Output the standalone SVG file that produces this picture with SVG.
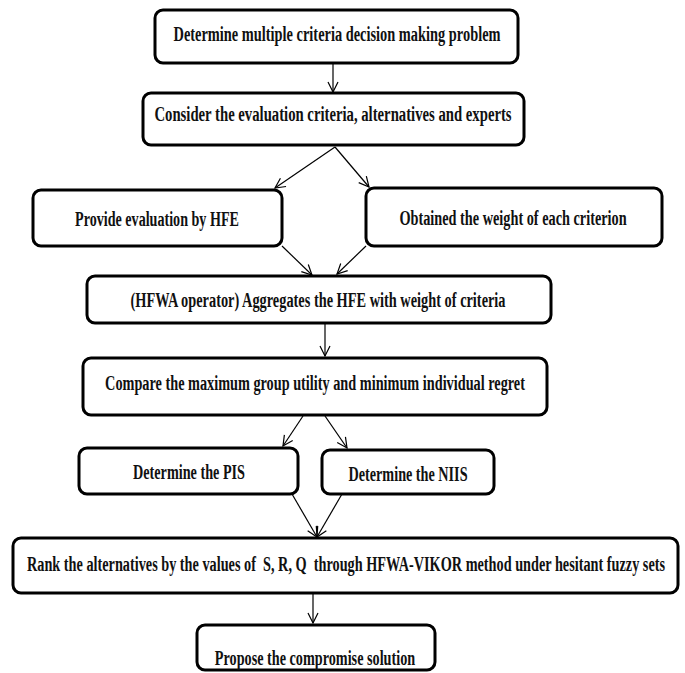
<svg xmlns="http://www.w3.org/2000/svg" width="685" height="673" viewBox="0 0 685 673">
<style>
.box{fill:#fff;stroke:#000;stroke-width:3}
.t{font-family:"Liberation Serif","Times New Roman",serif;font-weight:bold;font-size:22px;fill:#111;text-anchor:middle;white-space:pre}
.c{stroke:#000;stroke-width:1.2;fill:none}
</style>
<defs>
<marker id="ah" viewBox="-1 -6 12 12" refX="10" refY="0" markerWidth="12" markerHeight="12" markerUnits="userSpaceOnUse" orient="auto">
<path d="M0,-5 L10,0 L0,5" fill="none" stroke="#000" stroke-width="1.2"/>
</marker>
</defs>
<rect width="685" height="673" fill="#fff"/>
<g id="connectors">
<line class="c" x1="333" y1="63" x2="333" y2="92" marker-end="url(#ah)"/>
<line class="c" x1="335" y1="147" x2="275" y2="188" marker-end="url(#ah)"/>
<line class="c" x1="335" y1="147" x2="369" y2="187" marker-end="url(#ah)"/>
<line class="c" x1="282" y1="246" x2="312" y2="275" marker-end="url(#ah)"/>
<line class="c" x1="366" y1="246" x2="337" y2="274" marker-end="url(#ah)"/>
<line class="c" x1="325" y1="324" x2="325" y2="356" marker-end="url(#ah)"/>
<line class="c" x1="303" y1="416" x2="283" y2="446" marker-end="url(#ah)"/>
<line class="c" x1="325" y1="416" x2="347" y2="448" marker-end="url(#ah)"/>
<line class="c" x1="292" y1="494" x2="317" y2="537" marker-end="url(#ah)"/>
<line class="c" x1="342" y1="494" x2="317" y2="537" marker-end="url(#ah)"/>
<line class="c" x1="313" y1="593" x2="313" y2="623" marker-end="url(#ah)"/>
</g>
<g id="n1"><rect class="box" x="155" y="10" width="363" height="53" rx="8"/><text class="t" transform="translate(337,40.5) scale(0.64,1)" textLength="511" lengthAdjust="spacingAndGlyphs">Determine multiple criteria decision making problem</text></g>
<g id="n2"><rect class="box" x="143" y="93" width="381" height="52" rx="8"/><text class="t" transform="translate(333,120.5) scale(0.64,1)" textLength="558" lengthAdjust="spacingAndGlyphs">Consider the evaluation criteria, alternatives and experts</text></g>
<g id="n3"><rect class="box" x="33" y="190" width="249" height="56" rx="8"/><text class="t" transform="translate(157,225.5) scale(0.64,1)" textLength="256" lengthAdjust="spacingAndGlyphs">Provide evaluation by HFE</text></g>
<g id="n4"><rect class="box" x="366" y="188" width="296" height="58" rx="8"/><text class="t" transform="translate(513,224.5) scale(0.64,1)" textLength="355" lengthAdjust="spacingAndGlyphs">Obtained the weight of each criterion</text></g>
<g id="n5"><rect class="box" x="87" y="276" width="464" height="47" rx="8"/><text class="t" transform="translate(318,306.5) scale(0.64,1)" textLength="586" lengthAdjust="spacingAndGlyphs">(HFWA operator) Aggregates the HFE with weight of criteria</text></g>
<g id="n6"><rect class="box" x="83" y="358" width="464" height="57" rx="8"/><text class="t" transform="translate(315,389.5) scale(0.64,1)" textLength="656" lengthAdjust="spacingAndGlyphs">Compare the maximum group utility and minimum individual regret</text></g>
<g id="n7"><rect class="box" x="79" y="448" width="219" height="46" rx="8"/><text class="t" transform="translate(189,478.5) scale(0.64,1)" textLength="175" lengthAdjust="spacingAndGlyphs">Determine the PIS</text></g>
<g id="n8"><rect class="box" x="322" y="450" width="172" height="44" rx="8"/><text class="t" transform="translate(408,480.5) scale(0.64,1)" textLength="186" lengthAdjust="spacingAndGlyphs">Determine the NIIS</text></g>
<g id="n9"><rect class="box" x="13" y="538" width="665" height="55" rx="8"/><text class="t" transform="translate(346,570.5) scale(0.64,1)" textLength="997" lengthAdjust="spacingAndGlyphs">Rank the alternatives by the values of  S, R, Q  through HFWA-VIKOR method under hesitant fuzzy sets</text></g>
<g id="n10"><rect class="box" x="197" y="625" width="238" height="45" rx="8"/><text class="t" transform="translate(315,664.5) scale(0.64,1)" textLength="313" lengthAdjust="spacingAndGlyphs">Propose the compromise solution</text></g>
</svg>
